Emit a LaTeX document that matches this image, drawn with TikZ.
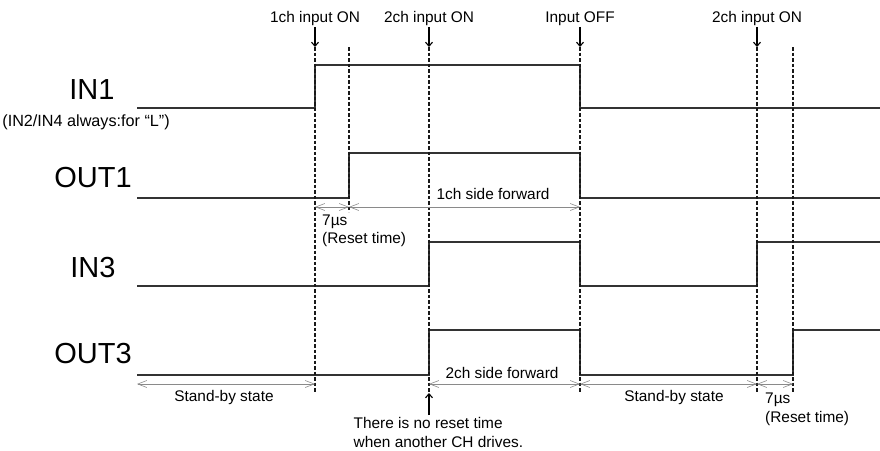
\documentclass[tikz,border=0pt]{standalone}
\usepackage{fontspec}
\setmainfont{Liberation Sans}
\usetikzlibrary{arrows.meta}
\definecolor{wave}{HTML}{333333}
\definecolor{spangray}{HTML}{8A8A8A}

\tikzset{
  sig/.style={line width=1.5pt, wave, line join=miter},
  guide/.style={line width=1.2pt, black!90, dash pattern=on 3.5pt off 2pt},
  span/.style={{Straight Barb[length=9pt,width=7pt]}-{Straight Barb[length=9pt,width=7pt]}, line width=0.6pt, spangray},
  cue/.style={-{Straight Barb[length=4pt,width=7pt]}, line width=1.1pt},
  lbl/.style={font=\fontsize{15.4}{18}\selectfont, inner sep=1.5pt},
  signame/.style={font=\fontsize{29}{32}\selectfont, inner sep=0pt}
}

\begin{document}
\begin{tikzpicture}[x=1pt, y=-1pt]
  \useasboundingbox (0,0) rectangle (880,450);

  % Signal names
  \node[signame, anchor=base] (in1)  at (92,99)  {IN1};
  \node[lbl, font=\fontsize{16.2}{18}\selectfont, anchor=base east, inner sep=0pt] (note) at (170,126) {(IN2/IN4 always:for “L”)};
  \node[signame, anchor=base] (out1) at (93,187) {OUT1};
  \node[signame, anchor=base] (in3)  at (93,277) {IN3};
  \node[signame, anchor=base] (out3) at (93,363) {OUT3};

  % Waveforms
  \draw[sig] (137,108) -- (315,108) -- (315,65) -- (580,65) -- (580,108) -- (880,108);
  \draw[sig] (137,198) -- (349,198) -- (349,153) -- (580,153) -- (580,198) -- (880,198);
  \draw[sig] (137,286) -- (429,286) -- (429,242) -- (580,242) -- (580,286)
             -- (757,286) -- (757,242) -- (880,242);
  \draw[sig] (137,375) -- (429,375) -- (429,330) -- (580,330) -- (580,375)
             -- (793,375) -- (793,330) -- (880,330);

  % Timing guides
  \foreach \name/\x/\b in {tA/315/393, tB/349/212, tC/429/393, tD/580/393, tE/757/393, tF/793/393} {
    \coordinate (\name) at (\x,47);
    \coordinate (\name bot) at (\x,\b);
    \draw[guide] (\name) -- (\name bot);
  }

  % Events
  \node[lbl, anchor=base] (evA) at (tA |- 0,22) {1ch input ON};
  \node[lbl, anchor=base] (evC) at (tC |- 0,22) {2ch input ON};
  \node[lbl, anchor=base] (evD) at (tD |- 0,22) {Input OFF};
  \node[lbl, anchor=base] (evE) at (tE |- 0,22) {2ch input ON};
  \foreach \ev/\t in {evA/tA, evC/tC, evD/tD, evE/tE} {
    \draw[cue] (\ev) -- (\t);
  }

  % Periods
  \draw[span] (315,207) -- (349,207);
  \draw[span] (349,207) -- (580,207);
  \draw[span] (137,384) -- (315,384);
  \draw[span] (429,384) -- (580,384);
  \draw[span] (580,384) -- (757,384);
  \draw[span] (757,384) -- (793,384);

  \node[lbl, anchor=base west, inner sep=0pt] (rs1a) at (322,225) {7µs};
  \node[lbl, anchor=base west, inner sep=0pt] (rs1b) at (322,243) {(Reset time)};
  \node[lbl, anchor=base] (fwd1) at (493,199) {1ch side forward};
  \node[lbl, anchor=base] (sb1)  at (224,401) {Stand-by state};
  \node[lbl, anchor=base] (fwd2) at (502,378) {2ch side forward};
  \node[lbl, anchor=base] (sb2)  at (674,401) {Stand-by state};
  \node[lbl, anchor=base west, inner sep=0pt] (rs2a) at (765,403) {7µs};
  \node[lbl, anchor=base west, inner sep=0pt] (rs2b) at (765,422) {(Reset time)};

  % No reset time note
  \node[lbl, anchor=base west] (nr1) at (352,428) {There is no reset time};
  \node[lbl, anchor=base west] (nr2) at (352,447) {when another CH drives.};
  \draw[cue] (nr1.north -| tC) -- (tCbot);
\end{tikzpicture}
\end{document}
